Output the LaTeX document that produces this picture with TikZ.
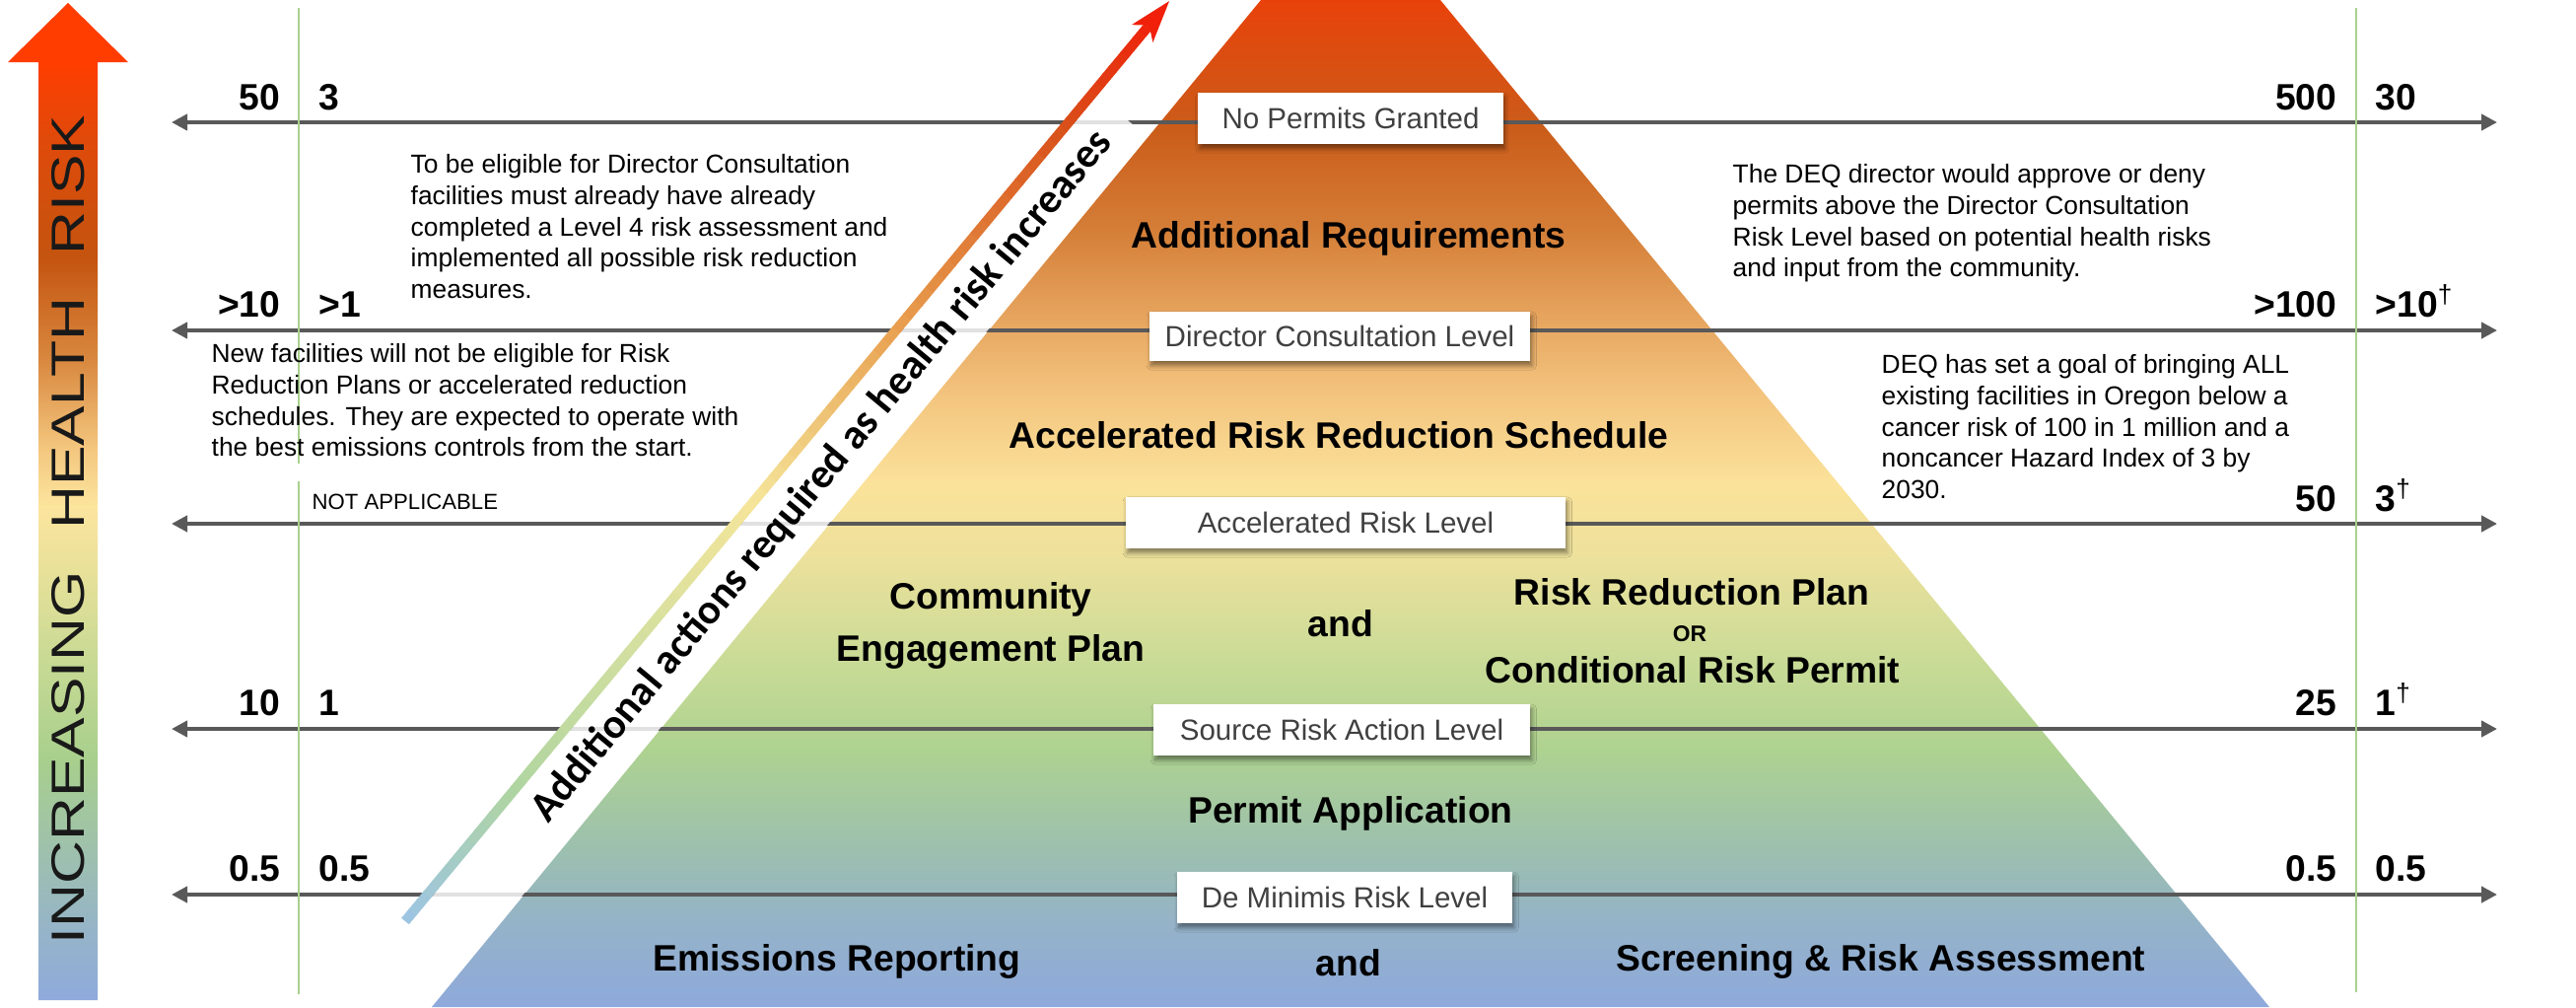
\documentclass[tikz,border=0pt]{standalone}
\usepackage{graphicx}
\usepackage{fontspec}
\setmainfont{Liberation Sans}
\newfontfamily\calfont{Carlito}
\usetikzlibrary{arrows.meta,shadows.blur}

\definecolor{linegray}{HTML}{595959}
\definecolor{greenl}{HTML}{A9D18E}
\definecolor{boxtext}{HTML}{404040}
\definecolor{arrred}{HTML}{F0200A}
% pyramid colours (bottom -> top)
\definecolor{p0}{HTML}{8EA9DB}
\definecolor{p1}{HTML}{94B2C9}
\definecolor{p2}{HTML}{9CC0AE}
\definecolor{p3}{HTML}{AED290}
\definecolor{p4}{HTML}{CCDC97}
\definecolor{p5}{HTML}{EEE19C}
\definecolor{p6}{HTML}{FBE29A}
\definecolor{p7}{HTML}{F3C47E}
\definecolor{p8}{HTML}{E6A45E}
\definecolor{p9}{HTML}{D47D36}
\definecolor{p10}{HTML}{CB5C1A}
\definecolor{p11}{HTML}{E8420A}
\pgfdeclareverticalshading{pyrshade}{100bp}{color(0bp)=(p0); color(25bp)=(p0); color(28.97bp)=(p1); color(32.88bp)=(p2); color(37.78bp)=(p3); color(42.68bp)=(p4); color(47.58bp)=(p5); color(51bp)=(p6); color(55.41bp)=(p7); color(59.33bp)=(p8); color(63.74bp)=(p9); color(68.63bp)=(p10); color(75bp)=(p11); color(100bp)=(p11)}
% left arrow colours
\definecolor{a0}{HTML}{8FAADC}
\definecolor{a1}{HTML}{97B6C4}
\definecolor{a2}{HTML}{A8CF8D}
\definecolor{a3}{HTML}{C4D993}
\definecolor{a4}{HTML}{EEE29B}
\definecolor{a5}{HTML}{FCE59E}
\definecolor{a6}{HTML}{F4C77F}
\definecolor{a7}{HTML}{D9883F}
\definecolor{a8}{HTML}{C4540F}
\definecolor{a9}{HTML}{E04A0A}
\definecolor{a10}{HTML}{FF3D00}
\pgfdeclareverticalshading{riskshade}{100bp}{color(0bp)=(a0); color(25bp)=(a0); color(29.15bp)=(a1); color(37.07bp)=(a2); color(41.5bp)=(a3); color(47.45bp)=(a4); color(49.73bp)=(a5); color(52.6bp)=(a6); color(57.1bp)=(a7); color(62.29bp)=(a8); color(68.22bp)=(a9); color(72.03bp)=(a10); color(75bp)=(a10); color(100bp)=(a10)}
% diagonal arrow colours
\definecolor{d0}{HTML}{9CC4E4}
\definecolor{d1}{HTML}{B0D5A0}
\definecolor{d2}{HTML}{D4E0A0}
\definecolor{d3}{HTML}{F5E59A}
\definecolor{d4}{HTML}{E8A050}
\definecolor{d5}{HTML}{D8501A}
\definecolor{d6}{HTML}{F0200A}

\begin{document}
\begin{tikzpicture}[x=0.01cm, y=-0.01cm,
  level/.style={draw=linegray, line width=0.04cm, {Triangle[length=0.16cm,width=0.16cm]}-{Triangle[length=0.16cm,width=0.16cm]}},
  greenline/.style={draw=greenl, line width=0.02cm},
  num/.style={font=\bfseries\fontsize{10.6}{12}\selectfont, inner sep=0pt},
  lbl/.style={font=\bfseries\fontsize{10.6}{12}\selectfont, inner sep=0pt, text height=7.6pt, text depth=0pt},
  boxlbl/.style={fill=white, text=boxtext, font=\fontsize{8.4}{10}\selectfont, inner sep=0pt, text height=6.0pt, text depth=0pt,
     blur shadow={shadow xshift=0.5pt, shadow yshift=-1.3pt, shadow blur radius=1.3pt, shadow blur steps=6, shadow opacity=45}},
  note/.style={font=\fontsize{7.5}{9}\selectfont, align=left, inner sep=0pt, anchor=north west}
]
\useasboundingbox (0,0) rectangle (2613,1021);
\clip (0,0) rectangle (2613,1021);

% pyramid
\shade[shading=pyrshade] (438,1021) -- (1279,0) -- (1461,0) -- (2302,1021) -- cycle;

% left big arrow
\shade[shading=riskshade] (39,1014) -- (39,63) -- (8,63) -- (69,3) -- (130,63) -- (99,63) -- (99,1014) -- cycle;
\node[rotate=90, inner sep=0pt, font=\fontsize{13.1}{14}\selectfont, text=black!90] (risk) at (69,537)
  {\resizebox{8.4cm}{0.33cm}{INCREASING\hspace{0.7em}HEALTH\hspace{0.7em}RISK}};

% level lines
\foreach \n/\y in {1/124,2/335,3/531,4/739,5/907}{
  \coordinate (L\n) at (174,\y);
  \coordinate (R\n) at (2533,\y);
  \draw[level] (L\n) -- (R\n);
}

% green vertical lines
\coordinate (gl1) at (303,8);
\coordinate (gl2) at (303,470);
\coordinate (gl3) at (303,488);
\coordinate (gl4) at (303,1008);
\draw[greenline] (gl1) -- (gl2);
\draw[greenline] (gl3) -- (gl4);
\coordinate (gr1) at (2390,8);
\coordinate (gr2) at (2390,1006);
\draw[greenline] (gr1) -- (gr2);

% diagonal arrow with white band
\begin{scope}[shift={(411,934)}, rotate=50.28]
  \fill[white, fill opacity=0.82] (-250,5) -- (1093,5) -- (1093,70.5) -- (-250,76.3) -- cycle;
  \foreach \sa/\sb/\ca/\cb in {0/174/d0/d1, 174/368/d1/d2, 368/554/d2/d3, 554/779/d3/d4, 779/1045/d4/d5, 1045/1190/d5/d6}{
    \foreach \k in {0,...,14}{
      \pgfmathsetmacro\xa{\sa+(\sb-\sa)*\k/15}
      \pgfmathsetmacro\xb{\sa+(\sb-\sa)*(\k+1)/15+0.8}
      \pgfmathtruncatemacro\pc{100*(\k+0.5)/15}
      \fill[\cb!\pc!\ca] (\xa,-5) -- (\xb,-5) -- (\xb,5) -- (\xa,5) -- cycle;
    }
  }
  \fill[arrred] (1213,0) -- (1170,-14) -- (1181,0) -- (1170,14) -- cycle;
  \node[rotate=50.28, inner sep=0pt, font=\calfont\bfseries\fontsize{12.1}{14}\selectfont] (diagtext) at (617,37)
    {Additional actions required as health risk increases};
\end{scope}

% level boxes
\node[boxlbl, minimum width=3.09cm, minimum height=0.52cm] (nopermit) at (1370,120) {No Permits Granted};
\node[boxlbl, minimum width=3.86cm, minimum height=0.50cm] (dircons) at (1359,341) {Director Consultation Level};
\node[boxlbl, minimum width=4.46cm, minimum height=0.52cm] (accel) at (1365,530) {Accelerated Risk Level};
\node[boxlbl, minimum width=3.82cm, minimum height=0.52cm] (srcrisk) at (1361,740) {Source Risk Action Level};
\node[boxlbl, minimum width=3.40cm, minimum height=0.52cm] (demin) at (1364,910) {De Minimis Risk Level};

% pyramid labels
\node[lbl] (addreq) at (1368,238) {Additional Requirements};
\node[lbl] (arrs) at (1358,441) {Accelerated Risk Reduction Schedule};
\node[lbl] (comm1) at (1005,604) {Community};
\node[lbl] (comm2) at (1005,657) {Engagement Plan};
\node[lbl] (and1) at (1360,632) {and};
\node[lbl] (rrp) at (1716,600) {Risk Reduction Plan};
\node[font=\bfseries\fontsize{6.5}{7}\selectfont, inner sep=0pt, text height=4.65pt, text depth=0pt] (orr) at (1714,642) {OR};
\node[lbl] (crp) at (1717,679) {Conditional Risk Permit};
\node[lbl] (permapp) at (1370,821) {Permit Application};
\node[lbl] (and2) at (1368,976) {and};
\node[lbl] (emis) at (849,971) {Emissions Reporting};
\node[lbl] (screen) at (1908,971) {Screening \& Risk Assessment};

% numbers left
\node[num, anchor=base east] (n1a) at (285,111) {50};
\node[num, anchor=base west] (n1b) at (323,111) {3};
\node[num, anchor=base east] (n2a) at (285,321) {>10};
\node[num, anchor=base west] (n2b) at (323,321) {>1};
\node[num, anchor=base east] (n4a) at (285,725) {10};
\node[num, anchor=base west] (n4b) at (323,725) {1};
\node[num, anchor=base east] (n5a) at (285,893) {0.5};
\node[num, anchor=base west] (n5b) at (323,893) {0.5};
\node[font=\fontsize{6.3}{7}\selectfont, inner sep=0pt, anchor=base west] (na) at (316,516) {NOT APPLICABLE};

% numbers right
\node[num, anchor=base east] (m1a) at (2371,111) {500};
\node[num, anchor=base west] (m1b) at (2409,111) {30};
\node[num, anchor=base east] (m2a) at (2371,321) {>100};
\node[num, anchor=base west] (m2b) at (2409,321) {>10\textsuperscript{\mdseries †}};
\node[num, anchor=base east] (m3a) at (2371,518) {50};
\node[num, anchor=base west] (m3b) at (2409,518) {3\textsuperscript{\mdseries †}};
\node[num, anchor=base east] (m4a) at (2371,725) {25};
\node[num, anchor=base west] (m4b) at (2409,725) {1\textsuperscript{\mdseries †}};
\node[num, anchor=base east] (m5a) at (2371,893) {0.5};
\node[num, anchor=base west] (m5b) at (2409,893) {0.5};

% notes
\node[note] (noteA) at (416,156) {To be eligible for Director Consultation\\facilities must already have already\\completed a Level 4 risk assessment and\\implemented all possible risk reduction\\measures.};
\node[note] (noteB) at (214,348) {New facilities will not be eligible for Risk\\Reduction Plans or accelerated reduction\\schedules. They are expected to operate with\\the best emissions controls from the start.};
\node[note] (noteC) at (1757,166) {The DEQ director would approve or deny\\permits above the Director Consultation\\Risk Level based on potential health risks\\and input from the community.};
\node[note] (noteD) at (1908,359) {DEQ has set a goal of bringing ALL\\existing facilities in Oregon below a\\cancer risk of 100 in 1 million and a\\noncancer Hazard Index of 3 by\\2030.};
\end{tikzpicture}
\end{document}
